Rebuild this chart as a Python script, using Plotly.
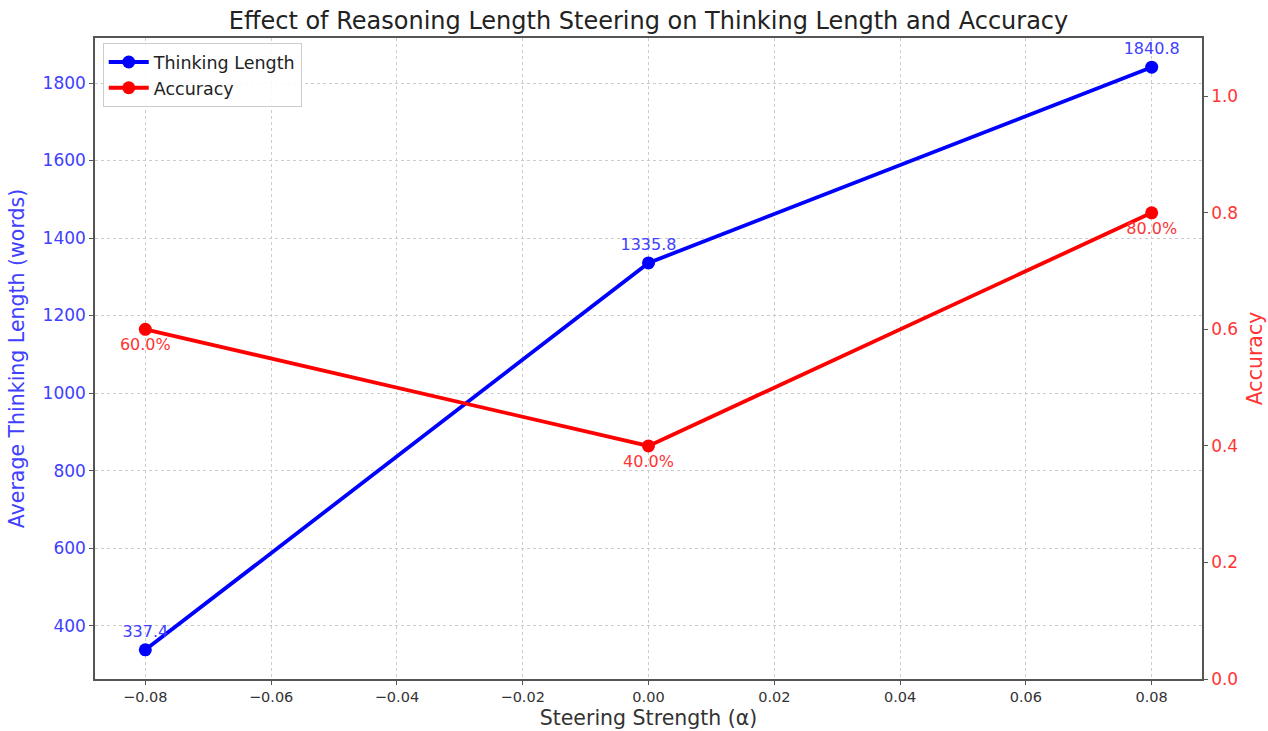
import plotly.graph_objects as go

alpha = [-0.08, 0.0, 0.08]
thinking_length = [337.4, 1335.8, 1840.8]
accuracy = [0.6, 0.4, 0.8]
thinking_labels = ["337.4", "1335.8", "1840.8"]
accuracy_labels = ["60.0%", "40.0%", "80.0%"]
x_ticks = [-0.08, -0.06, -0.04, -0.02, 0.0, 0.02, 0.04, 0.06, 0.08]
x_tick_text = ["\u22120.08", "\u22120.06", "\u22120.04", "\u22120.02", "0.00", "0.02", "0.04", "0.06", "0.08"]
left_ticks = [400, 600, 800, 1000, 1200, 1400, 1600, 1800]
right_ticks = [0.0, 0.2, 0.4, 0.6, 0.8, 1.0]
right_tick_text = ["0.0", "0.2", "0.4", "0.6", "0.8", "1.0"]

FONT = "DejaVu Sans"
BLUE = "blue"
RED = "red"
BLUE_TXT = "#4040ff"
RED_TXT = "#ff3535"

fig = go.Figure()
fig.add_trace(go.Scatter(
    x=alpha, y=thinking_length, name="Thinking Length",
    mode="lines+markers+text", text=thinking_labels, textposition="top center",
    textfont=dict(family=FONT, size=16, color=BLUE_TXT),
    line=dict(color=BLUE, width=3.8), marker=dict(color=BLUE, size=13),
    yaxis="y"))
fig.add_trace(go.Scatter(
    x=alpha, y=accuracy, name="Accuracy",
    mode="lines+markers+text", text=accuracy_labels, textposition="bottom center",
    textfont=dict(family=FONT, size=16, color=RED_TXT),
    line=dict(color=RED, width=3.8), marker=dict(color=RED, size=13),
    yaxis="y2"))

fig.update_layout(
    width=1268, height=731,
    margin=dict(l=95, r=66, t=38, b=52),
    paper_bgcolor="white", plot_bgcolor="white",
    font=dict(family=FONT, color="#333333"),
    title=dict(text="Effect of Reasoning Length Steering on Thinking Length and Accuracy",
               xref="paper", x=0.5, xanchor="center", y=0.972, yanchor="middle",
               font=dict(family=FONT, size=24, color="#222222")),
    xaxis=dict(range=[-0.088, 0.088], tickvals=x_ticks, ticktext=x_tick_text,
               automargin=False,
               showgrid=True, gridcolor="#cccccc", griddash="dot", gridwidth=1,
               showline=True, linecolor="#555555", linewidth=1.5, mirror=True,
               ticks="outside", ticklen=4, tickcolor="#555555",
               tickfont=dict(family=FONT, size=14.5, color="#333333"),
               title=dict(text="Steering Strength (\u03b1)", standoff=6,
                          font=dict(family=FONT, size=20.5, color="#333333")),
               zeroline=False),
    yaxis=dict(range=[262.2, 1916.1], tickvals=left_ticks,
               automargin=False,
               showgrid=True, gridcolor="#cccccc", griddash="dot", gridwidth=1,
               showline=True, linecolor="#555555", linewidth=1.5,
               ticks="outside", ticklen=4, tickcolor="#555555",
               tickfont=dict(family=FONT, size=17, color=BLUE_TXT),
               title=dict(text="Average Thinking Length (words)", standoff=12,
                          font=dict(family=FONT, size=20.5, color=BLUE_TXT)),
               zeroline=False),
    yaxis2=dict(range=[0, 1.1], tickvals=right_ticks, ticktext=right_tick_text,
                automargin=False,
                overlaying="y", side="right", showgrid=False,
                showline=True, linecolor="#555555", linewidth=1.5,
                ticks="outside", ticklen=4, tickcolor="#555555",
                tickfont=dict(family=FONT, size=17, color=RED_TXT),
                title=dict(text="Accuracy", standoff=10,
                           font=dict(family=FONT, size=20.5, color=RED_TXT)),
                zeroline=False),
    legend=dict(x=0.007, y=0.992, xanchor="left", yanchor="top",
                bgcolor="rgba(255,255,255,0.85)", bordercolor="#cccccc", borderwidth=1,
                font=dict(family=FONT, size=17.5, color="#222222"),
                itemwidth=40, tracegroupgap=0),
    showlegend=True,
)

fig.write_html("out.html")
